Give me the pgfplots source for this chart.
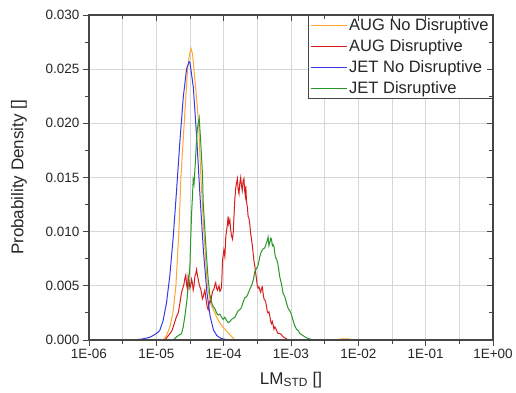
\documentclass[border=0pt]{standalone}
\usepackage{fontspec}
\setmainfont{Liberation Sans}
\usepackage{pgfplots}
\pgfplotsset{compat=1.18}
\definecolor{cOrange}{RGB}{255,165,50}
\definecolor{cRed}{RGB}{215,30,30}
\definecolor{cBlue}{RGB}{55,55,230}
\definecolor{cGreen}{RGB}{40,150,40}
\definecolor{axgray}{RGB}{70,70,70}
\definecolor{gridgray}{RGB}{215,215,215}
\begin{document}
\begin{tikzpicture}
\begin{axis}[
  scale only axis, width=404bp, height=325bp,
  at={(0,0)}, anchor=south west,
  xmode=log, xmin=1e-6, xmax=1, ymin=0, ymax=0.03,
  scaled y ticks=false,
  xtick={1e-6,1e-5,1e-4,1e-3,1e-2,1e-1,1},
  minor xtick={3.162e-6,3.162e-5,3.162e-4,3.162e-3,3.162e-2,3.162e-1},
  ytick={0,0.005,0.01,0.015,0.02,0.025,0.03},
  minor ytick={0.0025,0.0075,0.0125,0.0175,0.0225,0.0275},
  axis line style={axgray, line width=1.1bp},
  every tick/.style={axgray, line width=0.9bp},
  major tick length=6bp, minor tick length=4bp,
  tick align=outside, xtick pos=left, ytick pos=left,
  xmajorgrids, xminorgrids, ymajorgrids,
  major grid style={gridgray, line width=0.8bp},
  minor grid style={gridgray, line width=0.8bp},
  xticklabels={1E-06,1E-05,1E-04,1E-03,1E-02,1E-01,1E+00},
  yticklabels={0.000,0.005,0.010,0.015,0.020,0.025,0.030},
  tick label style={font=\fontsize{13.5bp}{16bp}\selectfont, text=black!85},
  xlabel={LM\textsubscript{STD} []},
  ylabel={Probability Density []},
  label style={font=\fontsize{17bp}{20bp}\selectfont, text=black!85},
  xlabel style={at={(axis description cs:0.5,-0.123)}, anchor=center},
  ylabel style={at={(axis description cs:-0.173,0.5)}, anchor=center},
  legend style={at={(1,1)}, anchor=north east, draw=axgray, line width=0.8bp,
    fill=white, font=\fontsize{16.5bp}{19bp}\selectfont, row sep=3.5bp,
    inner xsep=2bp, inner ysep=1.5bp, cells={anchor=west}, text=black!85},
  legend image code/.code={\draw[#1, line width=0.9bp] (0bp,0bp) -- (36bp,0bp);},
  every axis plot/.append style={line width=1bp},
]
\addplot[cOrange] coordinates {
(1e-6,0) (1.253e-5,0) (1.387e-5,0.0003) (1.592e-5,0.0012) (1.762e-5,0.0025)
(1.954e-5,0.005) (2.163e-5,0.010) (2.317e-5,0.015) (2.594e-5,0.020) (2.911e-5,0.025)
(3.10e-5,0.0263) (3.281e-5,0.0269) (3.45e-5,0.0264) (3.614e-5,0.0250) (3.9e-5,0.0228)
(4.246e-5,0.020) (4.592e-5,0.015) (5.082e-5,0.010) (5.728e-5,0.005) (6.457e-5,0.0033)
(7.396e-5,0.0025) (8.492e-5,0.0017) (9.727e-5,0.0012) (1.236e-4,0.0005) (1.466e-4,0)
(4.467e-3,0) (5.623e-3,0.0001) (7.079e-3,0.0001) (8.913e-3,0) (1,0)
};
\addlegendentry{AUG No Disruptive}
\addplot[cRed] coordinates {
(1e-6,0) (1.343e-5,0) (1.592e-5,0.0006) (1.69e-5,0.0008) (1.782e-5,0.0012)
(2.0e-5,0.0022) (2.12e-5,0.0025) (2.239e-5,0.0034) (2.37e-5,0.0044) (2.506e-5,0.0049)
(2.58e-5,0.0052) (2.655e-5,0.0057) (2.74e-5,0.0060) (2.816e-5,0.0051) (2.89e-5,0.0047)
(2.972e-5,0.0059) (3.06e-5,0.0055) (3.151e-5,0.0048) (3.25e-5,0.0051) (3.342e-5,0.0056)
(3.43e-5,0.0053) (3.527e-5,0.0046) (3.63e-5,0.0050) (3.741e-5,0.0059) (3.85e-5,0.0061)
(3.963e-5,0.0065) (4.07e-5,0.0060) (4.188e-5,0.0056) (4.31e-5,0.0052) (4.436e-5,0.0049)
(4.57e-5,0.0047) (4.699e-5,0.0043) (4.83e-5,0.0038) (4.966e-5,0.0040) (5.11e-5,0.0043)
(5.260e-5,0.0046) (5.41e-5,0.0040) (5.572e-5,0.0034) (5.73e-5,0.0030) (5.888e-5,0.0028)
(6.06e-5,0.0033) (6.241e-5,0.0036) (6.43e-5,0.0035) (6.614e-5,0.0040) (6.80e-5,0.0044)
(6.982e-5,0.0046) (7.19e-5,0.0047) (7.403e-5,0.0051) (7.62e-5,0.0053) (7.852e-5,0.0048)
(8.07e-5,0.0046) (8.287e-5,0.0048) (8.54e-5,0.0050) (8.790e-5,0.0045) (9.05e-5,0.0046)
(9.311e-5,0.0049) (9.63e-5,0.0074) (1.007e-4,0.0083) (1.042e-4,0.0077) (1.078e-4,0.0096)
(1.127e-4,0.0105) (1.166e-4,0.0114) (1.19e-4,0.0107) (1.236e-4,0.0111) (1.27e-4,0.0102)
(1.309e-4,0.0096) (1.355e-4,0.0093) (1.39e-4,0.0100) (1.416e-4,0.0111) (1.466e-4,0.0130)
(1.51e-4,0.0140) (1.553e-4,0.0145) (1.60e-4,0.0149) (1.641e-4,0.0139) (1.69e-4,0.0135)
(1.738e-4,0.0145) (1.79e-4,0.0150) (1.843e-4,0.0142) (1.89e-4,0.0138) (1.945e-4,0.0147)
(2.00e-4,0.0149) (2.063e-4,0.0136) (2.10e-4,0.0133) (2.133e-4,0.0142) (2.188e-4,0.0127)
(2.25e-4,0.0123) (2.309e-4,0.0114) (2.38e-4,0.0112) (2.449e-4,0.0106) (2.52e-4,0.0098)
(2.594e-4,0.0093) (2.67e-4,0.0087) (2.742e-4,0.0080) (2.82e-4,0.0073) (2.904e-4,0.0068)
(2.99e-4,0.0062) (3.076e-4,0.0056) (3.16e-4,0.0050) (3.251e-4,0.0048) (3.35e-4,0.0049)
(3.443e-4,0.0046) (3.55e-4,0.0044) (3.650e-4,0.0048) (3.75e-4,0.0049) (3.855e-4,0.0043)
(3.97e-4,0.0038) (4.083e-4,0.0037) (4.21e-4,0.0035) (4.330e-4,0.0031) (4.45e-4,0.0026)
(4.571e-4,0.0025) (4.71e-4,0.0026) (4.849e-4,0.0022) (5.0e-4,0.0017) (5.140e-4,0.0015)
(5.28e-4,0.0017) (5.426e-4,0.0014) (5.59e-4,0.0010) (5.754e-4,0.0012) (5.92e-4,0.0011)
(6.095e-4,0.0009) (6.26e-4,0.0007) (6.437e-4,0.0006) (6.8e-4,0.0006) (7.228e-4,0.0005)
(7.6e-4,0.0003) (8.091e-4,0.0002) (8.6e-4,0.0001) (9.057e-4,0) (1,0)
};
\addlegendentry{AUG Disruptive}
\addplot[cBlue] coordinates {
(1e-6,0) (3.162e-6,0) (5.012e-6,0.00003) (6.310e-6,0.0001) (7.943e-6,0.00025)
(8.913e-6,0.0004) (1e-5,0.0006) (1.122e-5,0.00086) (1.259e-5,0.00178) (1.413e-5,0.00339)
(1.585e-5,0.00591) (1.778e-5,0.00942) (1.995e-5,0.01373) (2.239e-5,0.01833) (2.512e-5,0.02241)
(2.818e-5,0.02505) (3.076e-5,0.0257) (3.162e-5,0.0256) (3.548e-5,0.0233) (3.981e-5,0.01866)
(4.467e-5,0.01316) (5.012e-5,0.00817) (5.623e-5,0.00446) (6.310e-5,0.00215) (7.079e-5,0.00091)
(7.943e-5,0.0004) (8.913e-5,0.00018) (1e-4,0.00008) (1.259e-4,0.00002) (1.585e-4,0) (1,0)
};
\addlegendentry{JET No Disruptive}
\addplot[cGreen] coordinates {
(1e-6,0) (1.782e-5,0) (2.0e-5,0.0003) (2.239e-5,0.0005) (2.373e-5,0.0006)
(2.506e-5,0.0012) (2.655e-5,0.0022) (2.816e-5,0.0034) (2.972e-5,0.0049) (3.151e-5,0.0068)
(3.228e-5,0.0090) (3.342e-5,0.0117) (3.456e-5,0.0135) (3.527e-5,0.0148) (3.63e-5,0.0144)
(3.741e-5,0.0157) (3.963e-5,0.0185) (4.046e-5,0.0194) (4.188e-5,0.0200) (4.330e-5,0.0205)
(4.436e-5,0.0195) (4.59e-5,0.0180) (4.864e-5,0.0151) (4.966e-5,0.0127) (5.260e-5,0.0102)
(5.572e-5,0.0077) (5.888e-5,0.0056) (6.241e-5,0.0042) (6.6e-5,0.0035) (6.982e-5,0.0031)
(7.4e-5,0.0029) (7.852e-5,0.0025) (8.3e-5,0.0023) (8.8e-5,0.0024) (9.311e-5,0.0021)
(9.8e-5,0.0019) (1.04e-4,0.0021) (1.104e-4,0.0018) (1.17e-4,0.0016) (1.236e-4,0.0017)
(1.31e-4,0.0019) (1.384e-4,0.0020) (1.47e-4,0.0021) (1.553e-4,0.0024) (1.64e-4,0.0027)
(1.738e-4,0.0028) (1.84e-4,0.0030) (1.945e-4,0.0035) (2.06e-4,0.0039) (2.188e-4,0.0040)
(2.31e-4,0.0043) (2.449e-4,0.0047) (2.59e-4,0.0050) (2.742e-4,0.0055) (2.90e-4,0.0063)
(3.076e-4,0.0066) (3.25e-4,0.0069) (3.443e-4,0.0077) (3.65e-4,0.0082) (3.855e-4,0.0084)
(4.08e-4,0.0085) (4.330e-4,0.0090) (4.45e-4,0.0092) (4.571e-4,0.0095) (4.70e-4,0.0087)
(4.849e-4,0.0090) (5.0e-4,0.0094) (5.140e-4,0.0093) (5.28e-4,0.0087) (5.426e-4,0.0088)
(5.6e-4,0.0086) (5.754e-4,0.0080) (5.9e-4,0.0076) (6.095e-4,0.0075) (6.4e-4,0.0070)
(6.823e-4,0.0058) (7.2e-4,0.0052) (7.638e-4,0.0043) (8.1e-4,0.0040) (8.57e-4,0.0034)
(9.1e-4,0.0029) (9.594e-4,0.0027) (1.01e-3,0.0024) (1.074e-3,0.0018) (1.14e-3,0.0013)
(1.207e-3,0.0010) (1.27e-3,0.0009) (1.352e-3,0.0006) (1.698e-3,0.0002) (2.128e-3,0) (1,0)
};
\addlegendentry{JET Disruptive}
\end{axis}
\begin{axis}[
  scale only axis, width=404bp, height=325bp,
  at={(0,0)}, anchor=south west,
  xmode=log, xmin=1e-6, xmax=1, ymin=0, ymax=0.03,
  scaled x ticks=false, scaled y ticks=false,
  xtick={1e-6,1e-5,1e-4,1e-3,1e-2,1e-1,1},
  minor xtick={3.162e-6,3.162e-5,3.162e-4,3.162e-3,3.162e-2,3.162e-1},
  ytick={0,0.005,0.01,0.015,0.02,0.025,0.03},
  minor ytick={0.0025,0.0075,0.0125,0.0175,0.0225,0.0275},
  axis line style={axgray, line width=1.1bp},
  every tick/.style={axgray, line width=0.9bp},
  major tick length=6bp, minor tick length=4bp,
  tick align=inside, xtick pos=right, ytick pos=right,
  xticklabels={}, yticklabels={},
]
\addplot[draw=none] coordinates {(1e-3,0.01)};
\end{axis}
\pgfresetboundingbox
\path[use as bounding box] (-89bp,-53bp) rectangle (427bp,340bp);
\end{tikzpicture}
\end{document}
